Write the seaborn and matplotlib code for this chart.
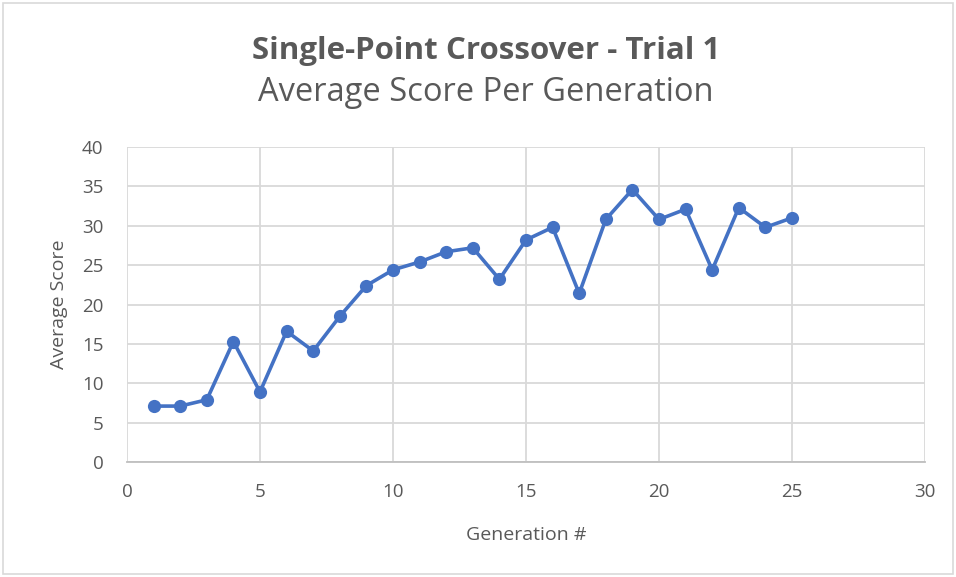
import numpy as np
import pandas as pd
import seaborn as sns
import matplotlib.pyplot as plt
from matplotlib.patches import Rectangle

sns.set_style("white")
plt.rcParams['font.family'] = ['Open Sans', 'DejaVu Sans']

generation = list(range(1, 26))
avg_score = [7.1, 7.1, 7.9, 15.3, 8.9, 16.6, 14.1, 18.5, 22.4, 24.4,
             25.4, 26.7, 27.2, 23.2, 28.2, 29.8, 21.4, 30.8, 34.6, 30.8,
             32.1, 24.4, 32.3, 29.8, 31.0]
x_ticks = [0, 5, 10, 15, 20, 25, 30]
y_ticks = [0, 5, 10, 15, 20, 25, 30, 35, 40]

df = pd.DataFrame({"Generation #": generation, "Average Score": avg_score})

text_grey = "#595959"
grid_grey = "#d9d9d9"
blue = "#4472C4"

fig = plt.figure(figsize=(9.56, 5.77), dpi=100)
ax = fig.add_axes([127 / 956, 1 - 462 / 577, (925 - 127) / 956, (462 - 147) / 577])

sns.lineplot(data=df, x="Generation #", y="Average Score", ax=ax,
             color=blue, linewidth=2.6, marker="o", markersize=9.5,
             markeredgecolor=blue, markeredgewidth=0)

ax.set_xlim(0, 30)
ax.set_ylim(0, 40)
ax.set_xticks(x_ticks)
ax.set_yticks(y_ticks)
ax.grid(True, color=grid_grey, linewidth=1.3)
ax.set_axisbelow(True)
for side in ["top", "right", "left"]:
    ax.spines[side].set_visible(False)
ax.spines["bottom"].set_color("#bfbfbf")
ax.spines["bottom"].set_linewidth(1.3)
ax.tick_params(axis="both", length=0, labelsize=13.5, labelcolor=text_grey)
ax.tick_params(axis="x", pad=15)
ax.tick_params(axis="y", pad=17)

ax.set_xlabel("Generation #", fontsize=14, color=text_grey, labelpad=18)
ax.set_ylabel("Average Score", fontsize=14, color=text_grey, labelpad=10)

fig.text(486 / 956, 1 - 59 / 577, "Single-Point Crossover - Trial 1", ha="center", va="baseline",
         fontsize=22.5, fontweight="bold", color=text_grey)
fig.text(486 / 956, 1 - 101 / 577, "Average Score Per Generation", ha="center", va="baseline",
         fontsize=23.5, color=text_grey)

fig.patches.append(Rectangle((3 / 956, 3 / 577), 1 - 6 / 956, 1 - 6 / 577,
                             transform=fig.transFigure, fill=False,
                             edgecolor="#d9d9d9", linewidth=1.2))

fig.savefig("out.png", dpi=100)
